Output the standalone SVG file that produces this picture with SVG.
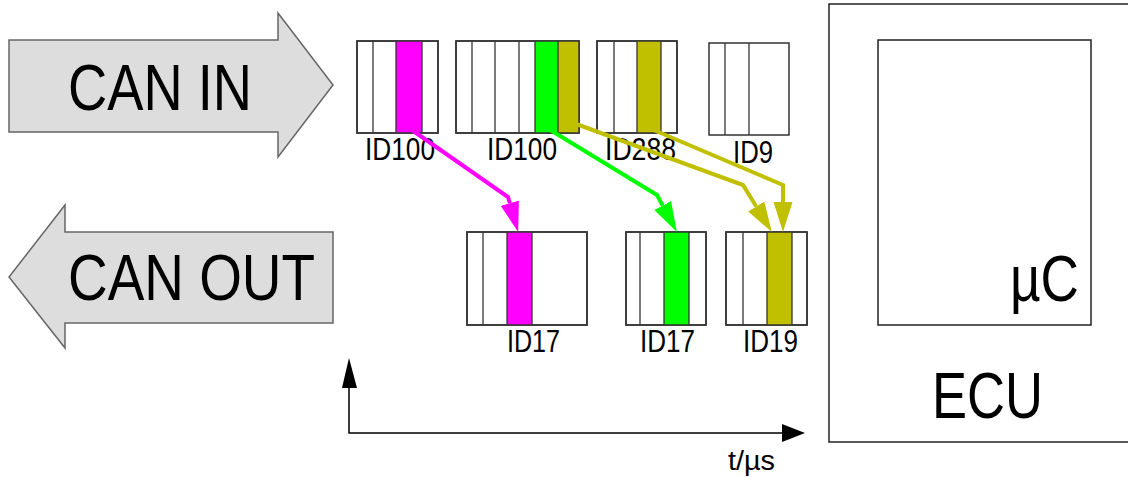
<svg xmlns="http://www.w3.org/2000/svg" width="1128" height="477" viewBox="0 0 1128 477">
<style>
text{font-family:"Liberation Sans",Arial,sans-serif;fill:#000}
.big{font-size:65px}
.id{font-size:31px}
.bigarrow{fill:#dddddd;stroke:#666;stroke-width:1.5}
.frame{fill:#fff;stroke:#333;stroke-width:1.5}
.div{stroke:#333;stroke-width:1.3}
.box{fill:#fff;stroke:#222;stroke-width:1.5}
.m{fill:#ff00ff}.g{fill:#00ff00}.o{fill:#c0c000}
.conn{fill:none;stroke-width:4;stroke-linejoin:miter}
</style>
<defs>
<marker id="ahM" markerUnits="userSpaceOnUse" markerWidth="30" markerHeight="20" refX="0" refY="9.5" orient="auto"><path d="M0,0 L30,9.5 L0,19 z" fill="#ff00ff"/></marker>
<marker id="ahG" markerUnits="userSpaceOnUse" markerWidth="30" markerHeight="20" refX="0" refY="9.5" orient="auto"><path d="M0,0 L30,9.5 L0,19 z" fill="#00ff00"/></marker>
<marker id="ahO" markerUnits="userSpaceOnUse" markerWidth="30" markerHeight="20" refX="0" refY="9.5" orient="auto"><path d="M0,0 L30,9.5 L0,19 z" fill="#c0c000"/></marker>
<marker id="ahK" markerUnits="userSpaceOnUse" markerWidth="30" markerHeight="18" refX="0" refY="8.5" orient="auto"><path d="M0,0 L24,8.5 L0,17 z" fill="#000"/></marker>
</defs>

<g id="can-in">
<polygon class="bigarrow" points="9,40 278,40 278,13 333,85 278,157 278,132 9,132"/>
<text class="big" x="68" y="110" textLength="184" lengthAdjust="spacingAndGlyphs">CAN IN</text>
</g>
<g id="can-out">
<polygon class="bigarrow" points="333,232 65,232 65,205 9,277 65,348 65,323 333,323"/>
<text class="big" x="68" y="300" textLength="247" lengthAdjust="spacingAndGlyphs">CAN OUT</text>
</g>

<g id="ecu">
<rect class="box" x="829" y="4" width="310" height="438"/>
<text class="big" x="932" y="418" textLength="111" lengthAdjust="spacingAndGlyphs">ECU</text>
</g>
<g id="uc">
<rect class="box" x="878" y="40" width="213" height="285"/>
<text class="big" x="1010" y="301" textLength="69" lengthAdjust="spacingAndGlyphs">µC</text>
</g>

<g id="in-frame1">
<rect class="frame" x="357" y="41" width="81" height="92"/>
<rect class="m" x="396" y="41" width="26" height="92"/>
<line class="div" x1="373" y1="41" x2="373" y2="133"/>
<line class="div" x1="396" y1="41" x2="396" y2="133"/>
<line class="div" x1="422" y1="41" x2="422" y2="133"/>
<rect x="357" y="41" width="81" height="92" fill="none" stroke="#333" stroke-width="1.5"/>
<text class="id" x="365" y="160" textLength="70" lengthAdjust="spacingAndGlyphs">ID100</text>
</g>
<g id="in-frame2">
<rect class="frame" x="456" y="41" width="123" height="92"/>
<rect class="g" x="535" y="41" width="23" height="92"/>
<rect class="o" x="558" y="41" width="21" height="92"/>
<line class="div" x1="472" y1="41" x2="472" y2="133"/>
<line class="div" x1="495" y1="41" x2="495" y2="133"/>
<line class="div" x1="519" y1="41" x2="519" y2="133"/>
<line class="div" x1="535" y1="41" x2="535" y2="133"/>
<line class="div" x1="558" y1="41" x2="558" y2="133"/>
<rect x="456" y="41" width="123" height="92" fill="none" stroke="#333" stroke-width="1.5"/>
<text class="id" x="487" y="160" textLength="70" lengthAdjust="spacingAndGlyphs">ID100</text>
</g>
<g id="in-frame3">
<rect class="frame" x="597" y="41" width="80" height="92"/>
<rect class="o" x="637" y="41" width="24" height="92"/>
<line class="div" x1="614" y1="41" x2="614" y2="133"/>
<line class="div" x1="637" y1="41" x2="637" y2="133"/>
<line class="div" x1="661" y1="41" x2="661" y2="133"/>
<rect x="597" y="41" width="80" height="92" fill="none" stroke="#333" stroke-width="1.5"/>
<text class="id" x="605" y="160" textLength="71" lengthAdjust="spacingAndGlyphs">ID288</text>
</g>
<g id="in-frame4">
<rect class="frame" x="709" y="43" width="80" height="92"/>
<line class="div" x1="725" y1="43" x2="725" y2="135"/>
<line class="div" x1="749" y1="43" x2="749" y2="135"/>
<text class="id" x="733" y="163" textLength="40" lengthAdjust="spacingAndGlyphs">ID9</text>
</g>

<g id="out-frame1">
<rect class="frame" x="467" y="232" width="120" height="93"/>
<rect class="m" x="507" y="232" width="25" height="93"/>
<line class="div" x1="483" y1="232" x2="483" y2="325"/>
<line class="div" x1="507" y1="232" x2="507" y2="325"/>
<line class="div" x1="532" y1="232" x2="532" y2="325"/>
<rect x="467" y="232" width="120" height="93" fill="none" stroke="#333" stroke-width="1.5"/>
<text class="id" x="507" y="352" textLength="53" lengthAdjust="spacingAndGlyphs">ID17</text>
</g>
<g id="out-frame2">
<rect class="frame" x="626" y="232" width="80" height="93"/>
<rect class="g" x="664" y="232" width="25" height="93"/>
<line class="div" x1="640" y1="232" x2="640" y2="325"/>
<line class="div" x1="664" y1="232" x2="664" y2="325"/>
<line class="div" x1="689" y1="232" x2="689" y2="325"/>
<rect x="626" y="232" width="80" height="93" fill="none" stroke="#333" stroke-width="1.5"/>
<text class="id" x="640" y="352" textLength="55" lengthAdjust="spacingAndGlyphs">ID17</text>
</g>
<g id="out-frame3">
<rect class="frame" x="726" y="232" width="81" height="93"/>
<rect class="o" x="767" y="232" width="25" height="93"/>
<line class="div" x1="743" y1="232" x2="743" y2="325"/>
<line class="div" x1="767" y1="232" x2="767" y2="325"/>
<line class="div" x1="792" y1="232" x2="792" y2="325"/>
<rect x="726" y="232" width="81" height="93" fill="none" stroke="#333" stroke-width="1.5"/>
<text class="id" x="743" y="352" textLength="55" lengthAdjust="spacingAndGlyphs">ID19</text>
</g>

<g id="connectors">
<polyline class="conn" stroke="#ff00ff" points="409,128 508,197 509.8,203.2" marker-end="url(#ahM)"/>
<polyline class="conn" stroke="#00ff00" points="547,128 657,195 662.7,205.6" marker-end="url(#ahG)"/>
<polyline class="conn" stroke="#c0c000" points="568,121 743,185 756.2,206.5" marker-end="url(#ahO)"/>
<polyline class="conn" stroke="#c0c000" points="649,128 783,185 783,202" marker-end="url(#ahO)"/>
</g>

<g id="axes">
<polyline fill="none" stroke="#000" stroke-width="1.5" points="349,388 349,433 782,433"/>
<polygon points="349,358 342,388 357,388" fill="#000"/>
<polygon points="805,433 782,424 782,442" fill="#000"/>
<text x="728" y="470" font-size="27" textLength="47" lengthAdjust="spacingAndGlyphs">t/µs</text>
</g>
</svg>
